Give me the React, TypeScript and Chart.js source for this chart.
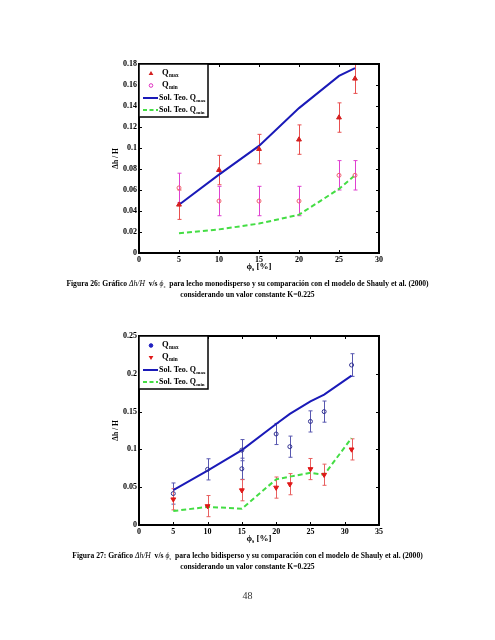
import React, { useEffect, useRef } from "react";
import { Chart, registerables } from "chart.js";

Chart.register(...registerables);

const SERIF = '"Liberation Serif", "Times New Roman", "DejaVu Serif", serif';

// ---------- Figura 26 (lecho monodisperso) ----------
const fig26Phi = [5, 10, 15, 20, 25, 27];
const fig26QmaxExp = [0.046, 0.079, 0.099, 0.108, 0.129, 0.166];
const fig26QmaxErr = [0.014, 0.014, 0.014, 0.014, 0.014, 0.014];
const fig26QminExp = [0.062, 0.0495, 0.0495, 0.0495, 0.074, 0.074];
const fig26QminErr = [0.014, 0.014, 0.014, 0.014, 0.014, 0.014];
const fig26QmaxTeo = [0.046, 0.0746, 0.102, 0.138, 0.1686, 0.176];
const fig26QminTeo = [0.0187, 0.0225, 0.028, 0.0365, 0.061, 0.074];

// ---------- Figura 27 (lecho bidisperso) ----------
const fig27PhiMax = [5, 10, 15, 15, 20, 22, 25, 27, 31];
const fig27QmaxExp = [0.0416, 0.0736, 0.099, 0.0744, 0.1204, 0.1036, 0.137, 0.15, 0.2116];
const fig27QmaxErr = [0.014, 0.014, 0.014, 0.014, 0.014, 0.014, 0.014, 0.014, 0.015];
const fig27Phi = [5, 10, 15, 20, 22, 25, 27, 31];
const fig27QminExp = [0.034, 0.025, 0.046, 0.0495, 0.054, 0.074, 0.0665, 0.1];
const fig27QminErr = [0.014, 0.014, 0.014, 0.014, 0.014, 0.014, 0.014, 0.014];
const fig27QmaxTeo = [0.046, 0.072, 0.099, 0.1335, 0.147, 0.1635, 0.1725, 0.1975];
const fig27QminTeo = [0.0184, 0.024, 0.0215, 0.0604, 0.064, 0.069, 0.0665, 0.115];

const legendMain = ["Q", "Q", "Sol. Teo. Q", "Sol. Teo. Q"];
const legendSub = ["max", "min", "max", "min"];
const xTitleMain = "\u03D5";
const xTitleSub = "s";
const xTitleRest = " [%]";
const yTitle = "\u0394h / H";

const BLUE = "#1a1ab8";
const GREEN = "#44dd44";

const pts = (xs: number[], ys: number[]) => xs.map((x, i) => ({ x, y: ys[i] }));

function drawSubText(ctx: CanvasRenderingContext2D, x: number, y: number, main: string, sub: string, size: number) {
  ctx.font = `bold ${size}px ${SERIF}`;
  ctx.fillText(main, x, y);
  const w = ctx.measureText(main).width;
  ctx.font = `bold ${size * 0.62}px ${SERIF}`;
  ctx.fillText(sub, x + w + 0.3, y + size * 0.32);
}

function drawMarker(ctx: CanvasRenderingContext2D, kind: string, x: number, y: number, color: string) {
  ctx.save();
  ctx.fillStyle = color;
  ctx.strokeStyle = color;
  ctx.lineWidth = 1;
  if (kind === "triUp" || kind === "triDown") {
    const s = kind === "triUp" ? 1 : -1;
    ctx.beginPath();
    ctx.moveTo(x, y - 2.6 * s);
    ctx.lineTo(x + 2.4, y + 1.6 * s);
    ctx.lineTo(x - 2.4, y + 1.6 * s);
    ctx.closePath();
    ctx.fill();
  } else if (kind === "ring") {
    ctx.beginPath();
    ctx.arc(x, y, 1.8, 0, Math.PI * 2);
    ctx.stroke();
  } else if (kind === "dot") {
    ctx.beginPath();
    ctx.arc(x, y, 1.8, 0, Math.PI * 2);
    ctx.fill();
    ctx.stroke();
  }
  ctx.restore();
}

const matlabPlugin = {
  id: "matlabFrame",
  beforeDatasetsDraw(chart: any) {
    const o = chart.options.plugins.matlabFrame;
    if (!o) return;
    const { ctx } = chart;
    const xs = chart.scales.x;
    const ys = chart.scales.y;
    ctx.save();
    for (const b of o.errorBars) {
      const ds = chart.data.datasets[b.datasetIndex];
      ctx.strokeStyle = b.color;
      ctx.lineWidth = 1;
      ds.data.forEach((p: any, i: number) => {
        const e = b.err[i];
        const px = Math.round(xs.getPixelForValue(p.x)) + 0.5;
        const y1 = ys.getPixelForValue(p.y + e);
        const y2 = ys.getPixelForValue(p.y - e);
        ctx.beginPath();
        ctx.moveTo(px, y1);
        ctx.lineTo(px, y2);
        ctx.moveTo(px - 2, y1);
        ctx.lineTo(px + 2, y1);
        ctx.moveTo(px - 2, y2);
        ctx.lineTo(px + 2, y2);
        ctx.stroke();
      });
    }
    ctx.restore();
  },
  afterDraw(chart: any) {
    const o = chart.options.plugins.matlabFrame;
    if (!o) return;
    const { ctx, chartArea: a } = chart;
    const xs = chart.scales.x;
    const ys = chart.scales.y;
    ctx.save();
    // inward ticks on all sides
    ctx.strokeStyle = "#000";
    ctx.lineWidth = 1;
    ctx.beginPath();
    xs.ticks.forEach((t: any) => {
      const px = Math.round(xs.getPixelForValue(t.value)) + 0.5;
      ctx.moveTo(px, a.bottom);
      ctx.lineTo(px, a.bottom - 3);
      ctx.moveTo(px, a.top);
      ctx.lineTo(px, a.top + 3);
    });
    ys.ticks.forEach((t: any) => {
      const py = Math.round(ys.getPixelForValue(t.value)) + 0.5;
      ctx.moveTo(a.left, py);
      ctx.lineTo(a.left + 3, py);
      ctx.moveTo(a.right, py);
      ctx.lineTo(a.right - 3, py);
    });
    ctx.stroke();
    // box
    ctx.lineWidth = 2;
    ctx.strokeRect(a.left, a.top, a.right - a.left, a.bottom - a.top);

    // x title with subscript
    ctx.fillStyle = "#000";
    ctx.textBaseline = "middle";
    ctx.textAlign = "left";
    const size = 9;
    ctx.font = `bold ${size}px ${SERIF}`;
    const w1 = ctx.measureText(xTitleMain).width;
    const w3 = ctx.measureText(xTitleRest).width;
    ctx.font = `bold ${size * 0.62}px ${SERIF}`;
    const w2 = ctx.measureText(xTitleSub).width;
    let tx = (a.left + a.right) / 2 - (w1 + w2 + w3) / 2;
    const ty = a.bottom + 14;
    ctx.font = `bold ${size}px ${SERIF}`;
    ctx.fillText(xTitleMain, tx, ty);
    tx += w1;
    ctx.font = `bold ${size * 0.62}px ${SERIF}`;
    ctx.fillText(xTitleSub, tx, ty + 3);
    tx += w2;
    ctx.font = `bold ${size}px ${SERIF}`;
    ctx.fillText(xTitleRest, tx, ty);

    // y title rotated
    ctx.save();
    ctx.translate(a.left - 23, (a.top + a.bottom) / 2);
    ctx.rotate(-Math.PI / 2);
    ctx.textAlign = "center";
    ctx.font = `bold 7.5px ${SERIF}`;
    ctx.fillText(yTitle, 0, 0);
    ctx.restore();

    // legend
    const lx = a.left;
    const ly = a.top;
    const lw = 69;
    const lh = 53;
    ctx.fillStyle = "#fff";
    ctx.fillRect(lx, ly, lw, lh);
    ctx.strokeStyle = "#000";
    ctx.lineWidth = 1.5;
    ctx.strokeRect(lx, ly, lw, lh);
    const rowsY = [9.5, 21.5, 34, 46];
    o.legend.forEach((r: any, i: number) => {
      const y = ly + rowsY[i];
      if (r.kind === "line") {
        ctx.save();
        ctx.strokeStyle = r.color;
        ctx.lineWidth = 2;
        ctx.setLineDash(r.dash || []);
        ctx.beginPath();
        ctx.moveTo(lx + 4, y);
        ctx.lineTo(lx + 19, y);
        ctx.stroke();
        ctx.restore();
        ctx.fillStyle = "#000";
        ctx.textAlign = "left";
        drawSubText(ctx, lx + 20, y, legendMain[i], legendSub[i], 8);
      } else {
        drawMarker(ctx, r.marker, lx + 12, y, r.color);
        ctx.fillStyle = "#000";
        ctx.textAlign = "left";
        drawSubText(ctx, lx + 23, y - 1, legendMain[i], legendSub[i], 8.5);
      }
    });
    ctx.restore();
  },
};

const tickFont = { family: SERIF, size: 8, weight: "bold" as const };

function makeConfig(opts: {
  datasets: any[];
  xMax: number;
  yMax: number;
  yStep: number;
  errorBars: any[];
  legend: any[];
}) {
  return {
    type: "scatter" as const,
    data: { datasets: opts.datasets },
    plugins: [matlabPlugin],
    options: {
      animation: false,
      responsive: false,
      layout: { padding: { top: 8, right: 16, left: 0, bottom: 0 } },
      plugins: {
        legend: { display: false },
        tooltip: { enabled: false },
        matlabFrame: { errorBars: opts.errorBars, legend: opts.legend },
      },
      scales: {
        x: {
          type: "linear",
          min: 0,
          max: opts.xMax,
          grid: { display: false, drawTicks: false },
          border: { display: false },
          ticks: { stepSize: 5, font: tickFont, color: "#000", padding: 2, maxRotation: 0 },
          afterFit: (s: any) => {
            s.height = 27;
          },
        },
        y: {
          type: "linear",
          min: 0,
          max: opts.yMax,
          grid: { display: false, drawTicks: false },
          border: { display: false },
          ticks: {
            stepSize: opts.yStep,
            font: tickFont,
            color: "#000",
            padding: 2,
            callback: (v: any) => String(+Number(v).toFixed(4)),
          },
          afterFit: (s: any) => {
            s.width = 39;
          },
        },
      },
    },
  };
}

function ChartCanvas({ config, top }: { config: any; top: number }) {
  const ref = useRef<HTMLCanvasElement | null>(null);
  useEffect(() => {
    if (!ref.current) return;
    const c = new Chart(ref.current, config);
    return () => c.destroy();
  }, [config]);
  return (
    <canvas
      ref={ref}
      width={295}
      height={224}
      style={{ position: "absolute", left: 100, top, width: 295, height: 224 }}
    />
  );
}

const config26 = makeConfig({
  xMax: 30,
  yMax: 0.18,
  yStep: 0.02,
  datasets: [
    {
      label: "Qmax",
      data: pts(fig26Phi, fig26QmaxExp),
      pointStyle: "triangle",
      pointRadius: 2.8,
      backgroundColor: "#d42020",
      borderColor: "#d42020",
      borderWidth: 1,
      showLine: false,
    },
    {
      label: "Qmin",
      data: pts(fig26Phi, fig26QminExp),
      pointStyle: "circle",
      pointRadius: 2,
      backgroundColor: "rgba(0,0,0,0)",
      borderColor: "#f06070",
      borderWidth: 1,
      showLine: false,
    },
    {
      label: "Sol. Teo. Qmax",
      data: pts(fig26Phi, fig26QmaxTeo),
      showLine: true,
      pointRadius: 0,
      borderColor: BLUE,
      borderWidth: 2,
    },
    {
      label: "Sol. Teo. Qmin",
      data: pts(fig26Phi, fig26QminTeo),
      showLine: true,
      pointRadius: 0,
      borderColor: GREEN,
      borderWidth: 2,
      borderDash: [5, 3],
    },
  ],
  errorBars: [
    { datasetIndex: 0, err: fig26QmaxErr, color: "#e85050" },
    { datasetIndex: 1, err: fig26QminErr, color: "#e040d0" },
  ],
  legend: [
    { kind: "marker", marker: "triUp", color: "#d42020" },
    { kind: "marker", marker: "ring", color: "#e030c0" },
    { kind: "line", color: BLUE },
    { kind: "line", color: GREEN, dash: [4, 2.5] },
  ],
});

const config27 = makeConfig({
  xMax: 35,
  yMax: 0.25,
  yStep: 0.05,
  datasets: [
    {
      label: "Qmax",
      data: pts(fig27PhiMax, fig27QmaxExp),
      pointStyle: "circle",
      pointRadius: 2,
      backgroundColor: "rgba(0,0,0,0)",
      borderColor: "#303090",
      borderWidth: 1,
      showLine: false,
    },
    {
      label: "Qmin",
      data: pts(fig27Phi, fig27QminExp),
      pointStyle: "triangle",
      rotation: 180,
      pointRadius: 2.8,
      backgroundColor: "#e01818",
      borderColor: "#e01818",
      borderWidth: 1,
      showLine: false,
    },
    {
      label: "Sol. Teo. Qmax",
      data: pts(fig27Phi, fig27QmaxTeo),
      showLine: true,
      pointRadius: 0,
      borderColor: BLUE,
      borderWidth: 2,
    },
    {
      label: "Sol. Teo. Qmin",
      data: pts(fig27Phi, fig27QminTeo),
      showLine: true,
      pointRadius: 0,
      borderColor: GREEN,
      borderWidth: 2,
      borderDash: [5, 3],
    },
  ],
  errorBars: [
    { datasetIndex: 0, err: fig27QmaxErr, color: "#5858b0" },
    { datasetIndex: 1, err: fig27QminErr, color: "#e86060" },
  ],
  legend: [
    { kind: "marker", marker: "dot", color: "#2020c0" },
    { kind: "marker", marker: "triDown", color: "#e01818" },
    { kind: "line", color: BLUE },
    { kind: "line", color: GREEN, dash: [4, 2.5] },
  ],
});

const capStyle: React.CSSProperties = {
  position: "absolute",
  left: 0,
  width: 495,
  textAlign: "center",
  fontFamily: SERIF,
  fontWeight: "bold",
  fontSize: 7.6,
  lineHeight: "8.4px",
  whiteSpace: "nowrap",
  color: "#000",
};
const mathStyle: React.CSSProperties = { fontWeight: "normal", fontStyle: "italic" };

function Caption({ num, kind, top }: { num: number; kind: string; top: number }) {
  return (
    <div style={{ ...capStyle, top }}>
      <div>
        Figura {num}: Gráfico <span style={mathStyle}>Δh/H</span>&nbsp; v/s{" "}
        <span style={mathStyle}>
          ϕ<sub style={{ fontSize: 5, verticalAlign: "-1.5px" }}>s</sub>
        </span>
        &nbsp; para lecho {kind} y su comparación con el modelo de Shauly et al. (2000)
      </div>
      <div>considerando un valor constante K=0.225</div>
    </div>
  );
}

export default function App() {
  return (
    <div style={{ position: "absolute", left: 0, top: 0, width: 495, height: 640, background: "#fff" }}>
      <ChartCanvas config={config26} top={56} />
      <Caption num={26} kind="monodisperso" top={280} />
      <ChartCanvas config={config27} top={328} />
      <Caption num={27} kind="bidisperso" top={552} />
      <div
        style={{
          position: "absolute",
          left: 0,
          width: 495,
          top: 590,
          textAlign: "center",
          fontFamily: SERIF,
          fontSize: 10,
          color: "#333",
        }}
      >
        48
      </div>
    </div>
  );
}
